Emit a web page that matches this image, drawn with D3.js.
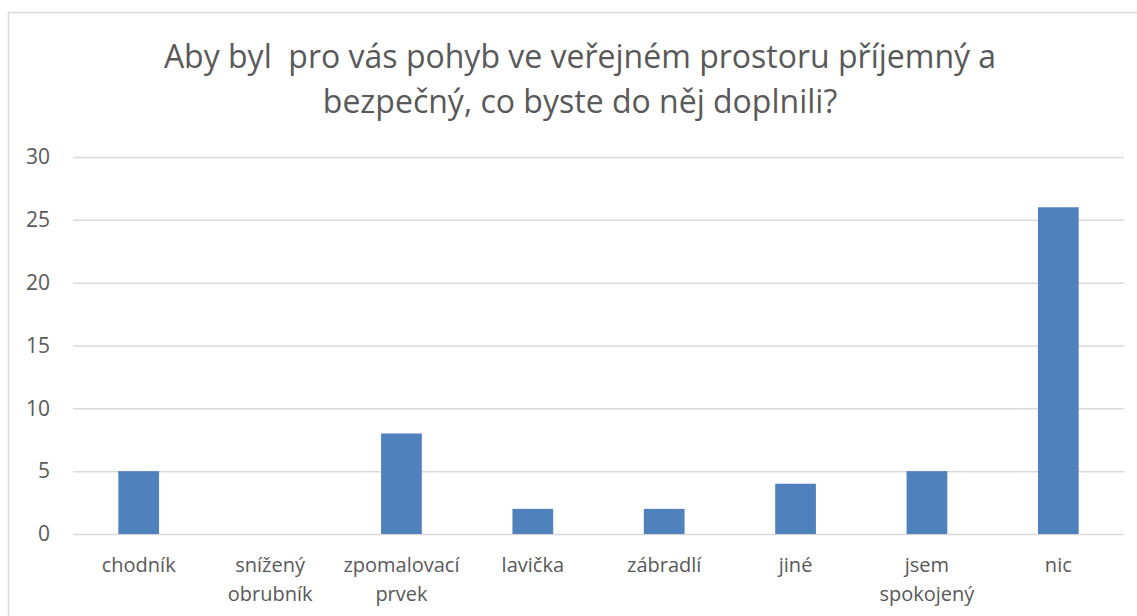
<!DOCTYPE html>
<html>
<head>
<meta charset="utf-8">
<script src="https://cdn.jsdelivr.net/npm/d3@7"></script>
<style>
  body { margin: 0; background: #fff; }
  text { font-family: "Open Sans", sans-serif; fill: #595959; }
</style>
</head>
<body>
<div class="chart"></div>
<script>
// data
var categories = [["chodník"], ["snížený", "obrubník"], ["zpomalovací", "prvek"], ["lavička"],
  ["zábradlí"], ["jiné"], ["jsem", "spokojený"], ["nic"]];
var values = [5, 0, 8, 2, 2, 4, 5, 26];
var yTicks = [0, 5, 10, 15, 20, 25, 30];
var titleLines = ["Aby byl  pro vás pohyb ve veřejném prostoru příjemný a",
  "bezpečný, co byste do něj doplnili?"];

var svgWidth = 1137;
var svgHeight = 616;
var margin = { top: 157, right: 13, bottom: 82, left: 73 };
var width = svgWidth - margin.left - margin.right;
var height = svgHeight - margin.top - margin.bottom;

var svg = d3.select(".chart")
  .append("svg")
  .attr("width", svgWidth)
  .attr("height", svgHeight);

// chart border
svg.append("rect")
  .attr("x", 8.5).attr("y", 12.5)
  .attr("width", 1150).attr("height", 640)
  .attr("fill", "none")
  .attr("stroke", "#d9d9d9")
  .attr("stroke-width", 1.5);

// title
svg.append("g").selectAll("text")
  .data(titleLines)
  .enter()
  .append("text")
  .attr("x", 580)
  .attr("y", (d, i) => 68 + i * 45)
  .attr("text-anchor", "middle")
  .style("font-size", "32px")
  .style("white-space", "pre")
  .text(d => d);

var chartGroup = svg.append("g")
  .attr("transform", `translate(${margin.left}, ${margin.top})`);

var xScale = d3.scaleBand()
  .domain(d3.range(categories.length))
  .range([0, width])
  .paddingInner(0.69)
  .paddingOuter(0.345);

var yScale = d3.scaleLinear()
  .domain([0, 30])
  .range([height, 0]);

// gridlines + y labels
var leftAxis = d3.axisLeft(yScale)
  .tickValues(yTicks)
  .tickSize(-width)
  .tickPadding(23);

var yAxisG = chartGroup.append("g").call(leftAxis);
yAxisG.select(".domain").remove();
yAxisG.selectAll("line").attr("stroke", "#d9d9d9").attr("stroke-width", 1.5);
yAxisG.selectAll("text")
  .style("font-size", "21px")
  .style("font-family", "'Open Sans', sans-serif")
  .attr("fill", "#595959");

// bars
chartGroup.selectAll("rect.bar")
  .data(values)
  .enter()
  .append("rect")
  .attr("class", "bar")
  .attr("x", (d, i) => xScale(i))
  .attr("y", d => yScale(d))
  .attr("width", xScale.bandwidth())
  .attr("height", d => height - yScale(d))
  .attr("fill", "#4f81bd");

// category labels
var labelG = chartGroup.selectAll("g.cat")
  .data(categories)
  .enter()
  .append("g")
  .attr("class", "cat")
  .attr("transform", (d, i) => `translate(${xScale(i) + xScale.bandwidth() / 2}, ${height})`);

labelG.selectAll("text")
  .data(d => d)
  .enter()
  .append("text")
  .attr("y", (d, i) => 38 + i * 29)
  .attr("text-anchor", "middle")
  .style("font-size", "20px")
  .text(d => d);
</script>
</body>
</html>
